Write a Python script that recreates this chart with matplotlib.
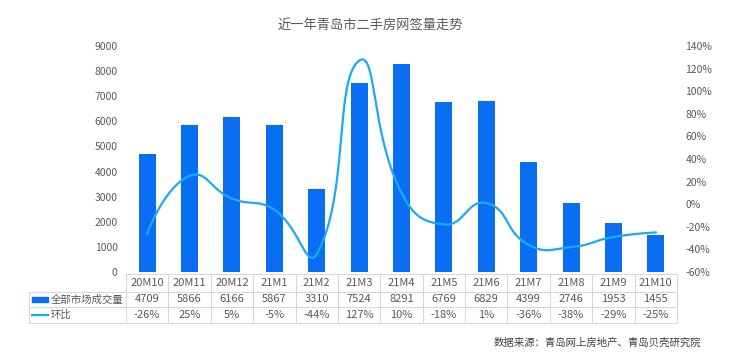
import matplotlib.pyplot as plt
import numpy as np

plt.rcParams['font.family'] = ['Noto Sans CJK SC', 'DejaVu Sans']

months = ['20M10', '20M11', '20M12', '21M1', '21M2', '21M3', '21M4',
          '21M5', '21M6', '21M7', '21M8', '21M9', '21M10']
volume = [4709, 5866, 6166, 5867, 3310, 7524, 8291, 6769, 6829, 4399, 2746, 1953, 1455]
mom = [-26, 25, 5, -5, -44, 127, 10, -18, 1, -36, -38, -29, -25]

bar_color = '#0a6ef2'
line_color = '#19aaf8'
txt = '#595959'
grid_c = '#d9d9d9'

W, H = 740, 359
fig = plt.figure(figsize=(W / 100, H / 100), dpi=100)
ax = fig.add_axes([126 / W, 1 - 272 / H, (677 - 126) / W, (272 - 46) / H])
ax2 = ax.twinx()

x = np.arange(len(months))
ax.bar(x, volume, width=0.4, color=bar_color, zorder=2)
ax.set_xlim(-0.5, len(months) - 0.5)
ax.set_ylim(0, 9000)
ax.set_yticks(range(0, 9001, 1000))


# excel-like smoothing: bezier with handles scaled by neighbour distances
def smooth(xs, ys, sx=42.4, sy=1.13, t=0.5, n=40):
    p = np.column_stack([np.asarray(xs) * sx, np.asarray(ys) * sy]).astype(float)
    k = len(p)
    cin = p.copy()
    cout = p.copy()
    for i in range(1, k - 1):
        d01 = np.linalg.norm(p[i] - p[i - 1])
        d12 = np.linalg.norm(p[i + 1] - p[i])
        v = p[i + 1] - p[i - 1]
        cin[i] = p[i] - t * d01 / (d01 + d12) * v
        cout[i] = p[i] + t * d12 / (d01 + d12) * v
    out = []
    tt = np.linspace(0, 1, n)[:, None]
    for i in range(k - 1):
        a, b, c, d = p[i], cout[i], cin[i + 1], p[i + 1]
        seg = ((1 - tt) ** 3 * a + 3 * (1 - tt) ** 2 * tt * b
               + 3 * (1 - tt) * tt ** 2 * c + tt ** 3 * d)
        out.append(seg)
    out = np.vstack(out)
    return out[:, 0] / sx, out[:, 1] / sy


lx, ly = smooth(x, mom)
ax2.plot(lx, ly, color=line_color, lw=1.6, zorder=3)
ax2.set_ylim(-60, 140)
ax2.set_yticks(range(-60, 141, 20))
ax2.set_yticklabels([f'{v}%' for v in range(-60, 141, 20)])

for a in (ax, ax2):
    for s in a.spines.values():
        s.set_visible(False)
    a.tick_params(length=0, labelsize=7.5, colors=txt, pad=6)
ax.set_xticks([])

fig.text(0.5, 1 - 25 / H, '近一年青岛市二手房网签量走势', ha='center', va='center',
         fontsize=9.5, color=txt)

# data table drawn under the axes
def fy(py):
    return 1 - py / H


def fx(px):
    return px / W


col_w = (677 - 126) / len(months)
rows = [274, 292, 307, 323]
left_lab = 29
kw = dict(color=grid_c, lw=0.8, transform=fig.transFigure)
# horizontal lines
fig.add_artist(plt.Line2D([fx(126), fx(677)], [fy(rows[0])] * 2, **kw))
for r in rows[1:]:
    fig.add_artist(plt.Line2D([fx(left_lab), fx(677)], [fy(r)] * 2, **kw))
# vertical lines
fig.add_artist(plt.Line2D([fx(left_lab)] * 2, [fy(rows[1]), fy(rows[3])], **kw))
for i in range(len(months) + 1):
    px = 126 + i * col_w
    fig.add_artist(plt.Line2D([fx(px)] * 2, [fy(rows[0]), fy(rows[3])], **kw))

for i, m in enumerate(months):
    cx = fx(126 + (i + 0.5) * col_w)
    fig.text(cx, fy((rows[0] + rows[1]) / 2), m, ha='center', va='center', fontsize=8, color=txt)
    fig.text(cx, fy((rows[1] + rows[2]) / 2), str(volume[i]), ha='center', va='center',
             fontsize=8, color=txt)
    fig.text(cx, fy((rows[2] + rows[3]) / 2), f'{mom[i]}%', ha='center', va='center',
             fontsize=8, color=txt)

# legend keys inside the row labels
fig.add_artist(plt.Rectangle((fx(32), fy(302)), fx(16), 5 / H, color=bar_color,
                             transform=fig.transFigure))
fig.add_artist(plt.Line2D([fx(32), fx(48)], [fy(315)] * 2, color=line_color, lw=1.6,
                          transform=fig.transFigure))
fig.text(fx(51), fy(299.5), '全部市场成交量', ha='left', va='center', fontsize=7.5, color=txt)
fig.text(fx(51), fy(315), '环比', ha='left', va='center', fontsize=7.5, color=txt)

fig.text(fx(701), fy(343), '数据来源：青岛网上房地产、青岛贝壳研究院', ha='right', va='center',
         fontsize=7.5, color='#404040')

fig.savefig('out.png', dpi=100)
